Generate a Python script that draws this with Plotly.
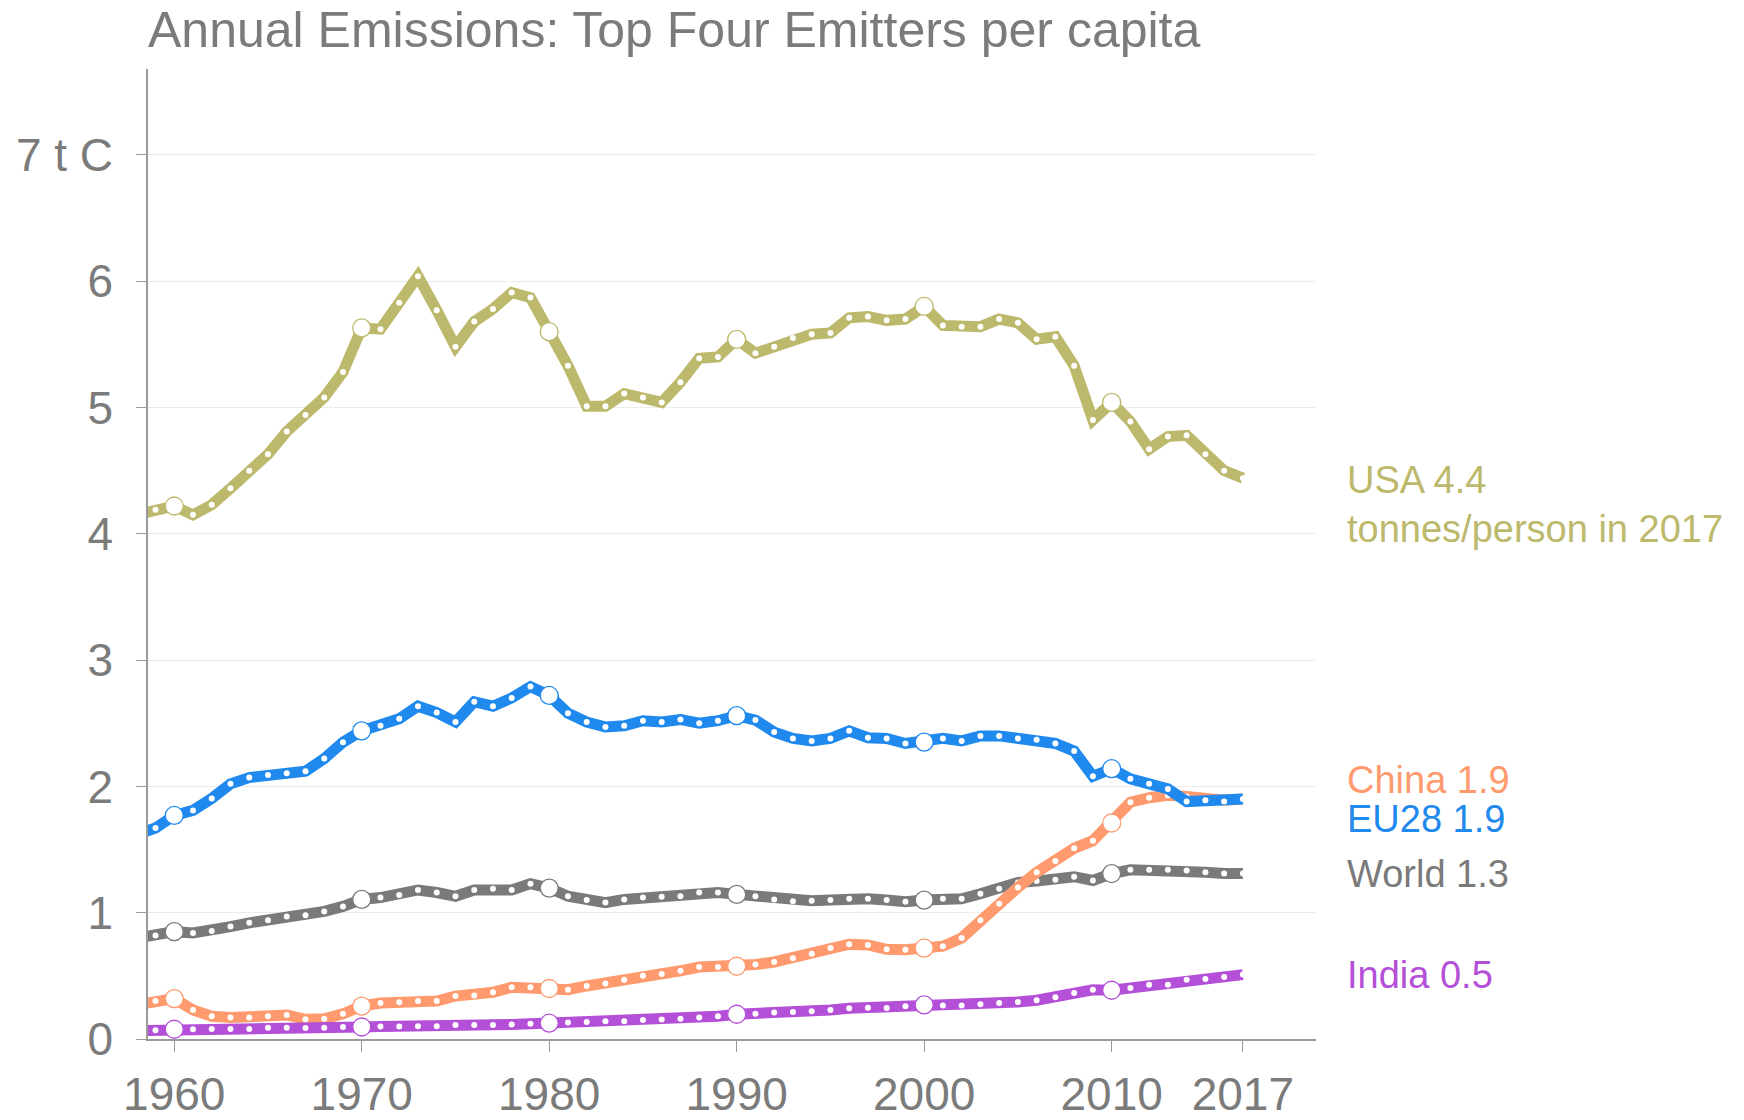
import plotly.graph_objects as go

years = list(range(1958, 2018))

usa = [4.15, 4.19, 4.22, 4.15, 4.23, 4.36, 4.50, 4.63, 4.81, 4.94, 5.08, 5.28,
       5.63, 5.62, 5.83, 6.04, 5.77, 5.48, 5.68, 5.78, 5.91, 5.87,
       5.60, 5.33, 5.01, 5.01, 5.11, 5.08, 5.04, 5.20, 5.39, 5.40,
       5.54, 5.43, 5.48, 5.55, 5.58, 5.59, 5.71, 5.72, 5.69, 5.70,
       5.80, 5.65, 5.64, 5.64, 5.70, 5.67, 5.54, 5.56, 5.33, 4.90,
       5.04, 4.89, 4.67, 4.77, 4.78, 4.63, 4.50, 4.44]

eu28 = [1.62, 1.67, 1.77, 1.81, 1.905, 2.02, 2.07, 2.09, 2.105, 2.12, 2.22, 2.35,
        2.44, 2.48, 2.535, 2.635, 2.585, 2.51, 2.67, 2.635, 2.70, 2.79,
        2.72, 2.58, 2.51, 2.47, 2.48, 2.52, 2.51, 2.53, 2.50, 2.52,
        2.56, 2.525, 2.43, 2.38, 2.36, 2.38, 2.44, 2.385, 2.38, 2.34,
        2.35, 2.38, 2.36, 2.40, 2.40, 2.38, 2.37, 2.34, 2.28, 2.08,
        2.14, 2.06, 2.02, 1.98, 1.88, 1.89, 1.88, 1.90]

world = [0.80, 0.82, 0.85, 0.84, 0.855, 0.89, 0.92, 0.94, 0.97, 0.98, 1.01, 1.05,
         1.105, 1.12, 1.14, 1.18, 1.16, 1.13, 1.18, 1.19, 1.18, 1.23,
         1.195, 1.13, 1.10, 1.08, 1.105, 1.12, 1.126, 1.13, 1.16, 1.16,
         1.145, 1.13, 1.105, 1.09, 1.095, 1.10, 1.11, 1.11, 1.10, 1.086,
         1.10, 1.11, 1.11, 1.15, 1.19, 1.24, 1.25, 1.26, 1.285, 1.255,
         1.31, 1.34, 1.34, 1.34, 1.335, 1.32, 1.31, 1.31]

china = [0.27, 0.30, 0.32, 0.23, 0.18, 0.17, 0.17, 0.18, 0.19, 0.156, 0.16, 0.20,
         0.26, 0.285, 0.29, 0.30, 0.30, 0.34, 0.345, 0.37, 0.41, 0.41,
         0.40, 0.39, 0.42, 0.44, 0.47, 0.50, 0.515, 0.54, 0.57, 0.57,
         0.576, 0.59, 0.61, 0.64, 0.674, 0.72, 0.75, 0.745, 0.71, 0.706,
         0.72, 0.735, 0.80, 0.94, 1.07, 1.20, 1.32, 1.41, 1.51, 1.57,
         1.71, 1.875, 1.91, 1.93, 1.92, 1.90, 1.89, 1.90]

india = [0.066, 0.07, 0.077, 0.077, 0.08, 0.08, 0.08, 0.09, 0.09, 0.088, 0.09, 0.095,
         0.095, 0.098, 0.098, 0.10, 0.10, 0.11, 0.11, 0.11, 0.115, 0.12,
         0.125, 0.13, 0.135, 0.14, 0.14, 0.15, 0.155, 0.16, 0.17, 0.18,
         0.196, 0.20, 0.21, 0.214, 0.22, 0.23, 0.243, 0.248, 0.246, 0.26,
         0.27, 0.265, 0.265, 0.275, 0.285, 0.293, 0.307, 0.33, 0.365, 0.39,
         0.386, 0.404, 0.43, 0.43, 0.47, 0.476, 0.49, 0.51]

series_names = ["World", "China", "EU28", "USA", "India"]
series_values = [world, china, eu28, usa, india]
series_colors = ["#7a7a7a", "#FF9A6E", "#1F89EE", "#BDB96C", "#B450D8"]

label_texts = ["USA 4.4<br>tonnes/person in 2017", "China 1.9", "EU28 1.9", "World 1.3", "India 0.5"]
label_y = [4.235, 2.05, 1.74, 1.31, 0.51]
label_colors = ["#BDB96C", "#FF9A6E", "#1F89EE", "#7a7a7a", "#B450D8"]

x_tick_vals = [1960, 1970, 1980, 1990, 2000, 2010, 2017]
x_tick_text = ["1960", "1970", "1980", "1990", "2000", "2010", "2017"]
y_tick_vals = [0, 1, 2, 3, 4, 5, 6, 7]
y_tick_text = ["0", "1", "2", "3", "4", "5", "6", "7 t C"]

FONT = "Liberation Sans"
GREY = "#7b7b7b"

W, H = 1736, 1112

fig = go.Figure()
for name, vals, col in zip(series_names, series_values, series_colors):
    big = [(y % 10 == 0) for y in years]
    fig.add_trace(go.Scatter(
        x=years, y=vals, name=name, mode="lines+markers",
        line=dict(color=col, width=11),
        marker=dict(
            color="white", opacity=1,
            size=[18 if b else 6 for b in big],
            line=dict(color=col, width=[1.3 if b else 0 for b in big]),
        ),
        showlegend=False, hoverinfo="x+y+name",
    ))

for txt, yv, col in zip(label_texts, label_y, label_colors):
    fig.add_annotation(
        x=1.0245, y=yv, xref="paper", yref="y", text=txt, showarrow=False,
        xanchor="left", yanchor="middle", align="left",
        font=dict(family=FONT, size=38, color=col),
    )

fig.update_layout(
    width=W, height=H,
    margin=dict(l=140, r=428, t=61, b=81, autoexpand=False),
    paper_bgcolor="white", plot_bgcolor="white",
    title=dict(
        text="Annual Emissions: Top Four Emitters per capita",
        x=0, xanchor="left", xref="paper",
        y=1 - 4 / H, yanchor="top", yref="container",
        font=dict(family=FONT, size=50, color=GREY),
    ),
    font=dict(family=FONT, color=GREY),
)

fig.update_xaxes(
    range=[1958.6, 2020.9], showgrid=False, zeroline=False, automargin=False,
    showline=True, linecolor="#9a9a9a", linewidth=1.5,
    ticks="outside", ticklen=11, tickcolor="#9a9a9a", tickwidth=1.2,
    tickvals=x_tick_vals, ticktext=x_tick_text, ticklabelstandoff=3,
    tickfont=dict(family=FONT, size=46, color=GREY),
)
fig.update_yaxes(
    range=[0, 7.68], showgrid=True, gridcolor="#ececec", gridwidth=1.2,
    zeroline=False, showline=True, linecolor="#9a9a9a", linewidth=1.5, automargin=False,
    ticks="outside", ticklen=10, tickcolor="#9a9a9a", tickwidth=1.2,
    tickvals=y_tick_vals, ticktext=y_tick_text, ticklabelstandoff=14,
    tickfont=dict(family=FONT, size=46, color=GREY),
)

fig.write_html("out.html")
